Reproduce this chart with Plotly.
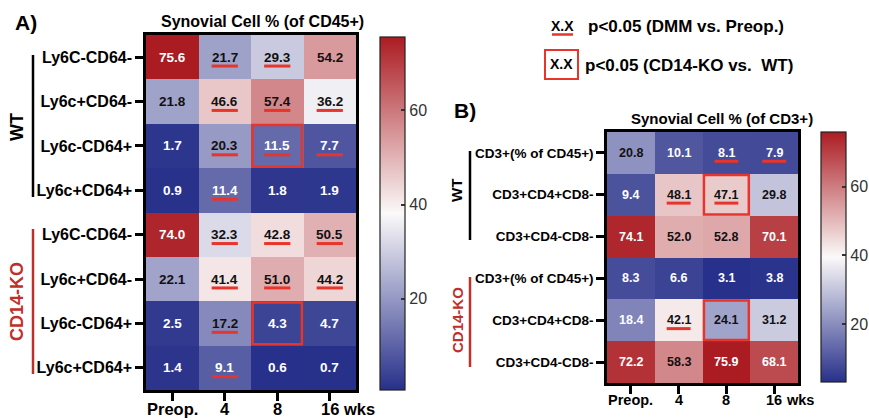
import plotly.graph_objects as go

W, H = 869, 420
FONT = "Liberation Sans, Arial, sans-serif"
RED = "#e8352b"
KO_RED = "#c0302b"

# ---------------- data ----------------
x_labels = ["Preop.", "4", "8", "16"]
time_unit = "wks"

a_rows = ["Ly6C-CD64-", "Ly6c+CD64-", "Ly6c-CD64+", "Ly6c+CD64+",
          "Ly6C-CD64-", "Ly6c+CD64-", "Ly6c-CD64+", "Ly6c+CD64+"]
a_values = [
    [75.6, 21.7, 29.3, 54.2],
    [21.8, 46.6, 57.4, 36.2],
    [1.7, 20.3, 11.5, 7.7],
    [0.9, 11.4, 1.8, 1.9],
    [74.0, 32.3, 42.8, 50.5],
    [22.1, 41.4, 51.0, 44.2],
    [2.5, 17.2, 4.3, 4.7],
    [1.4, 9.1, 0.6, 0.7],
]
a_sig_preop = [
    [0, 1, 1, 0],
    [0, 1, 1, 1],
    [0, 1, 1, 1],
    [0, 1, 0, 0],
    [0, 1, 1, 1],
    [0, 1, 1, 1],
    [0, 1, 0, 0],
    [0, 1, 0, 0],
]
a_sig_ko = [(2, 2), (6, 2)]

b_rows = ["CD3+(% of CD45+)", "CD3+CD4+CD8-", "CD3+CD4-CD8-",
          "CD3+(% of CD45+)", "CD3+CD4+CD8-", "CD3+CD4-CD8-"]
b_values = [
    [20.8, 10.1, 8.1, 7.9],
    [9.4, 48.1, 47.1, 29.8],
    [74.1, 52.0, 52.8, 70.1],
    [8.3, 6.6, 3.1, 3.8],
    [18.4, 42.1, 24.1, 31.2],
    [72.2, 58.3, 75.9, 68.1],
]
b_sig_preop = [
    [0, 0, 1, 1],
    [0, 1, 1, 0],
    [0, 0, 0, 0],
    [0, 0, 0, 0],
    [0, 1, 0, 0],
    [0, 0, 0, 0],
]
b_sig_ko = [(1, 2), (4, 2)]

groups = ["WT", "CD14-KO"]
title_a = "Synovial Cell % (of CD45+)"
title_b = "Synovial Cell % (of CD3+)"
legend_items = ["p<0.05 (DMM vs. Preop.)", "p<0.05 (CD14-KO vs.  WT)"]
legend_mark = "X.X"
colorbar_ticks = [20, 40, 60]

colorscale = [[0.0, "#27308a"], [0.5, "#fbf9f9"], [1.0, "#ab1c22"]]


def px(x):
    return x / W


def py(y):
    return 1 - y / H


fig = go.Figure()


def add_panel(values, rows, sig, ko, xa, ya, box, cb, val_size, tick_size, row_size,
              label_y, unit_x):
    x0, x1, y0, y1 = box
    n = len(rows)
    flat = [v for r in values for v in r]
    zmin, zmax = min(flat), max(flat)
    fig.add_trace(go.Heatmap(
        z=values, x=list(range(len(x_labels))), y=list(range(n)),
        xaxis=xa, yaxis=ya, colorscale=colorscale, zmin=zmin, zmax=zmax,
        hoverinfo="skip",
        colorbar=dict(
            x=px(cb[0]), xanchor="left", xpad=0, ypad=0,
            y=py((cb[1] + cb[2]) / 2), yanchor="middle",
            len=(cb[2] - cb[1]) / H, lenmode="fraction", thickness=cb[3],
            thicknessmode="pixels", outlinewidth=1.2, outlinecolor="#222",
            tickvals=colorbar_ticks, ticks="inside", ticklen=4, tickwidth=1.5,
            tickcolor="#333", tickfont=dict(family=FONT, size=16, color="#333"),
        ),
    ))
    # matching tick dashes on the left edge of the colour bar
    for v in colorbar_ticks:
        yy = cb[2] - (v - zmin) / (zmax - zmin) * (cb[2] - cb[1])
        fig.add_shape(type="line", xref="paper", yref="paper",
                      x0=px(cb[0]), x1=px(cb[0] + 4), y0=py(yy), y1=py(yy),
                      line=dict(color="#333", width=1.5))
    axx = "xaxis" if xa == "x" else "xaxis" + xa[1:]
    axy = "yaxis" if ya == "y" else "yaxis" + ya[1:]
    fig.update_layout(**{
        axx: dict(domain=[px(x0), px(x1)], range=[-0.5, 3.5], anchor=ya,
                  tickvals=list(range(len(x_labels))), showticklabels=False,
                  showline=True, mirror=True, linewidth=2.5, linecolor="black",
                  ticks="outside", ticklen=8, tickwidth=2.5, tickcolor="black",
                  showgrid=False, zeroline=False, automargin=False, fixedrange=True),
        axy: dict(domain=[py(y1), py(y0)], range=[n - 0.5, -0.5], anchor=xa,
                  tickvals=list(range(n)), ticktext=rows,
                  showline=True, mirror=True, linewidth=2.5, linecolor="black",
                  ticks="outside", ticklen=8, tickwidth=2.5, tickcolor="black",
                  tickfont=dict(family=FONT, size=row_size, color="black", weight="bold"),
                  showgrid=False, zeroline=False, automargin=False, fixedrange=True),
    })
    # x tick labels (drawn as text so they sit where the reference has them)
    for j, lab in enumerate(x_labels):
        fig.add_annotation(x=j, y=py(label_y), xref=xa, yref="paper", text=lab,
                           showarrow=False, yanchor="middle", borderpad=0,
                           font=dict(family=FONT, size=tick_size, color="black",
                                     weight="bold"))
    fig.add_annotation(x=px(unit_x), y=py(label_y), xref="paper", yref="paper",
                       text=time_unit, showarrow=False, xanchor="left", yanchor="middle",
                       borderpad=0,
                       font=dict(family=FONT, size=tick_size, color="black", weight="bold"))
    for i, row in enumerate(values):
        for j, v in enumerate(row):
            t = (v - zmin) / (zmax - zmin)
            col = "white" if (t < 0.215 or t > 0.8) else "#111"
            fig.add_annotation(x=j, y=i, xref=xa, yref=ya, text=f"{v:.1f}",
                               showarrow=False,
                               font=dict(family=FONT, size=val_size, color=col, weight="bold"))
            if sig[i][j]:
                fig.add_shape(type="line", xref=xa, yref=ya, x0=j - 0.25, x1=j + 0.25,
                              y0=i + 0.2, y1=i + 0.2, line=dict(color=RED, width=3))
    for (i, j) in ko:
        fig.add_shape(type="rect", xref=xa, yref=ya, x0=j - 0.47, x1=j + 0.47,
                      y0=i - 0.47, y1=i + 0.47, line=dict(color=RED, width=2.5))


add_panel(a_values, a_rows, a_sig_preop, a_sig_ko, "x", "y",
          (146, 356, 35, 390), (380, 37, 390, 25), 13.5, 16.5, 16, 409, 342)
add_panel(b_values, b_rows, b_sig_preop, b_sig_ko, "x2", "y2",
          (607, 798, 132, 383), (821, 132, 382, 25), 12.5, 14.5, 13.5, 400, 785)


def ann(x, y, text, size, color="black", xanchor="center", angle=0, bold=True):
    fig.add_annotation(x=px(x), y=py(y), xref="paper", yref="paper", text=text,
                       showarrow=False, xanchor=xanchor, yanchor="middle", textangle=angle,
                       borderpad=0,
                       font=dict(family=FONT, size=size, color=color,
                                 weight="bold" if bold else "normal"))


def pline(x0, y0, x1, y1, color, width):
    fig.add_shape(type="line", xref="paper", yref="paper", x0=px(x0), y0=py(y0),
                  x1=px(x1), y1=py(y1), line=dict(color=color, width=width))


# panel labels and titles
ann(26, 22, "A)", 21)
ann(453, 111, "B)", 21, xanchor="left")
ann(262, 21, title_a, 16)
ann(722, 118, title_b, 15)

# group brackets, panel A
pline(33, 55, 33, 197, "black", 2.5)
ann(17, 127, groups[0], 18, angle=-90)
pline(33, 229, 33, 374, KO_RED, 2.5)
ann(17, 302, groups[1], 18, color=KO_RED, angle=-90)

# group brackets, panel B
pline(470, 151, 470, 240, "black", 2.5)
ann(457, 191, groups[0], 15, angle=-90)
pline(470, 277, 470, 367, KO_RED, 2.5)
ann(457, 320, groups[1], 15, color=KO_RED, angle=-90)

# significance legend
ann(562, 26, legend_mark, 14)
pline(552, 34.5, 573, 34.5, RED, 2.5)
ann(587, 27, legend_items[0], 17, xanchor="left")
fig.add_shape(type="rect", xref="paper", yref="paper", x0=px(545), x1=px(578),
              y0=py(79), y1=py(50), line=dict(color=RED, width=2))
ann(561.5, 64, legend_mark, 14)
ann(584, 65, legend_items[1], 17, xanchor="left")

fig.update_layout(
    width=W, height=H, autosize=False,
    margin=dict(l=0, r=0, t=0, b=0, autoexpand=False),
    paper_bgcolor="white", plot_bgcolor="white", showlegend=False,
)

fig.write_html("out.html", config={"displayModeBar": False},
               post_script="document.body.style.margin='0px';")
